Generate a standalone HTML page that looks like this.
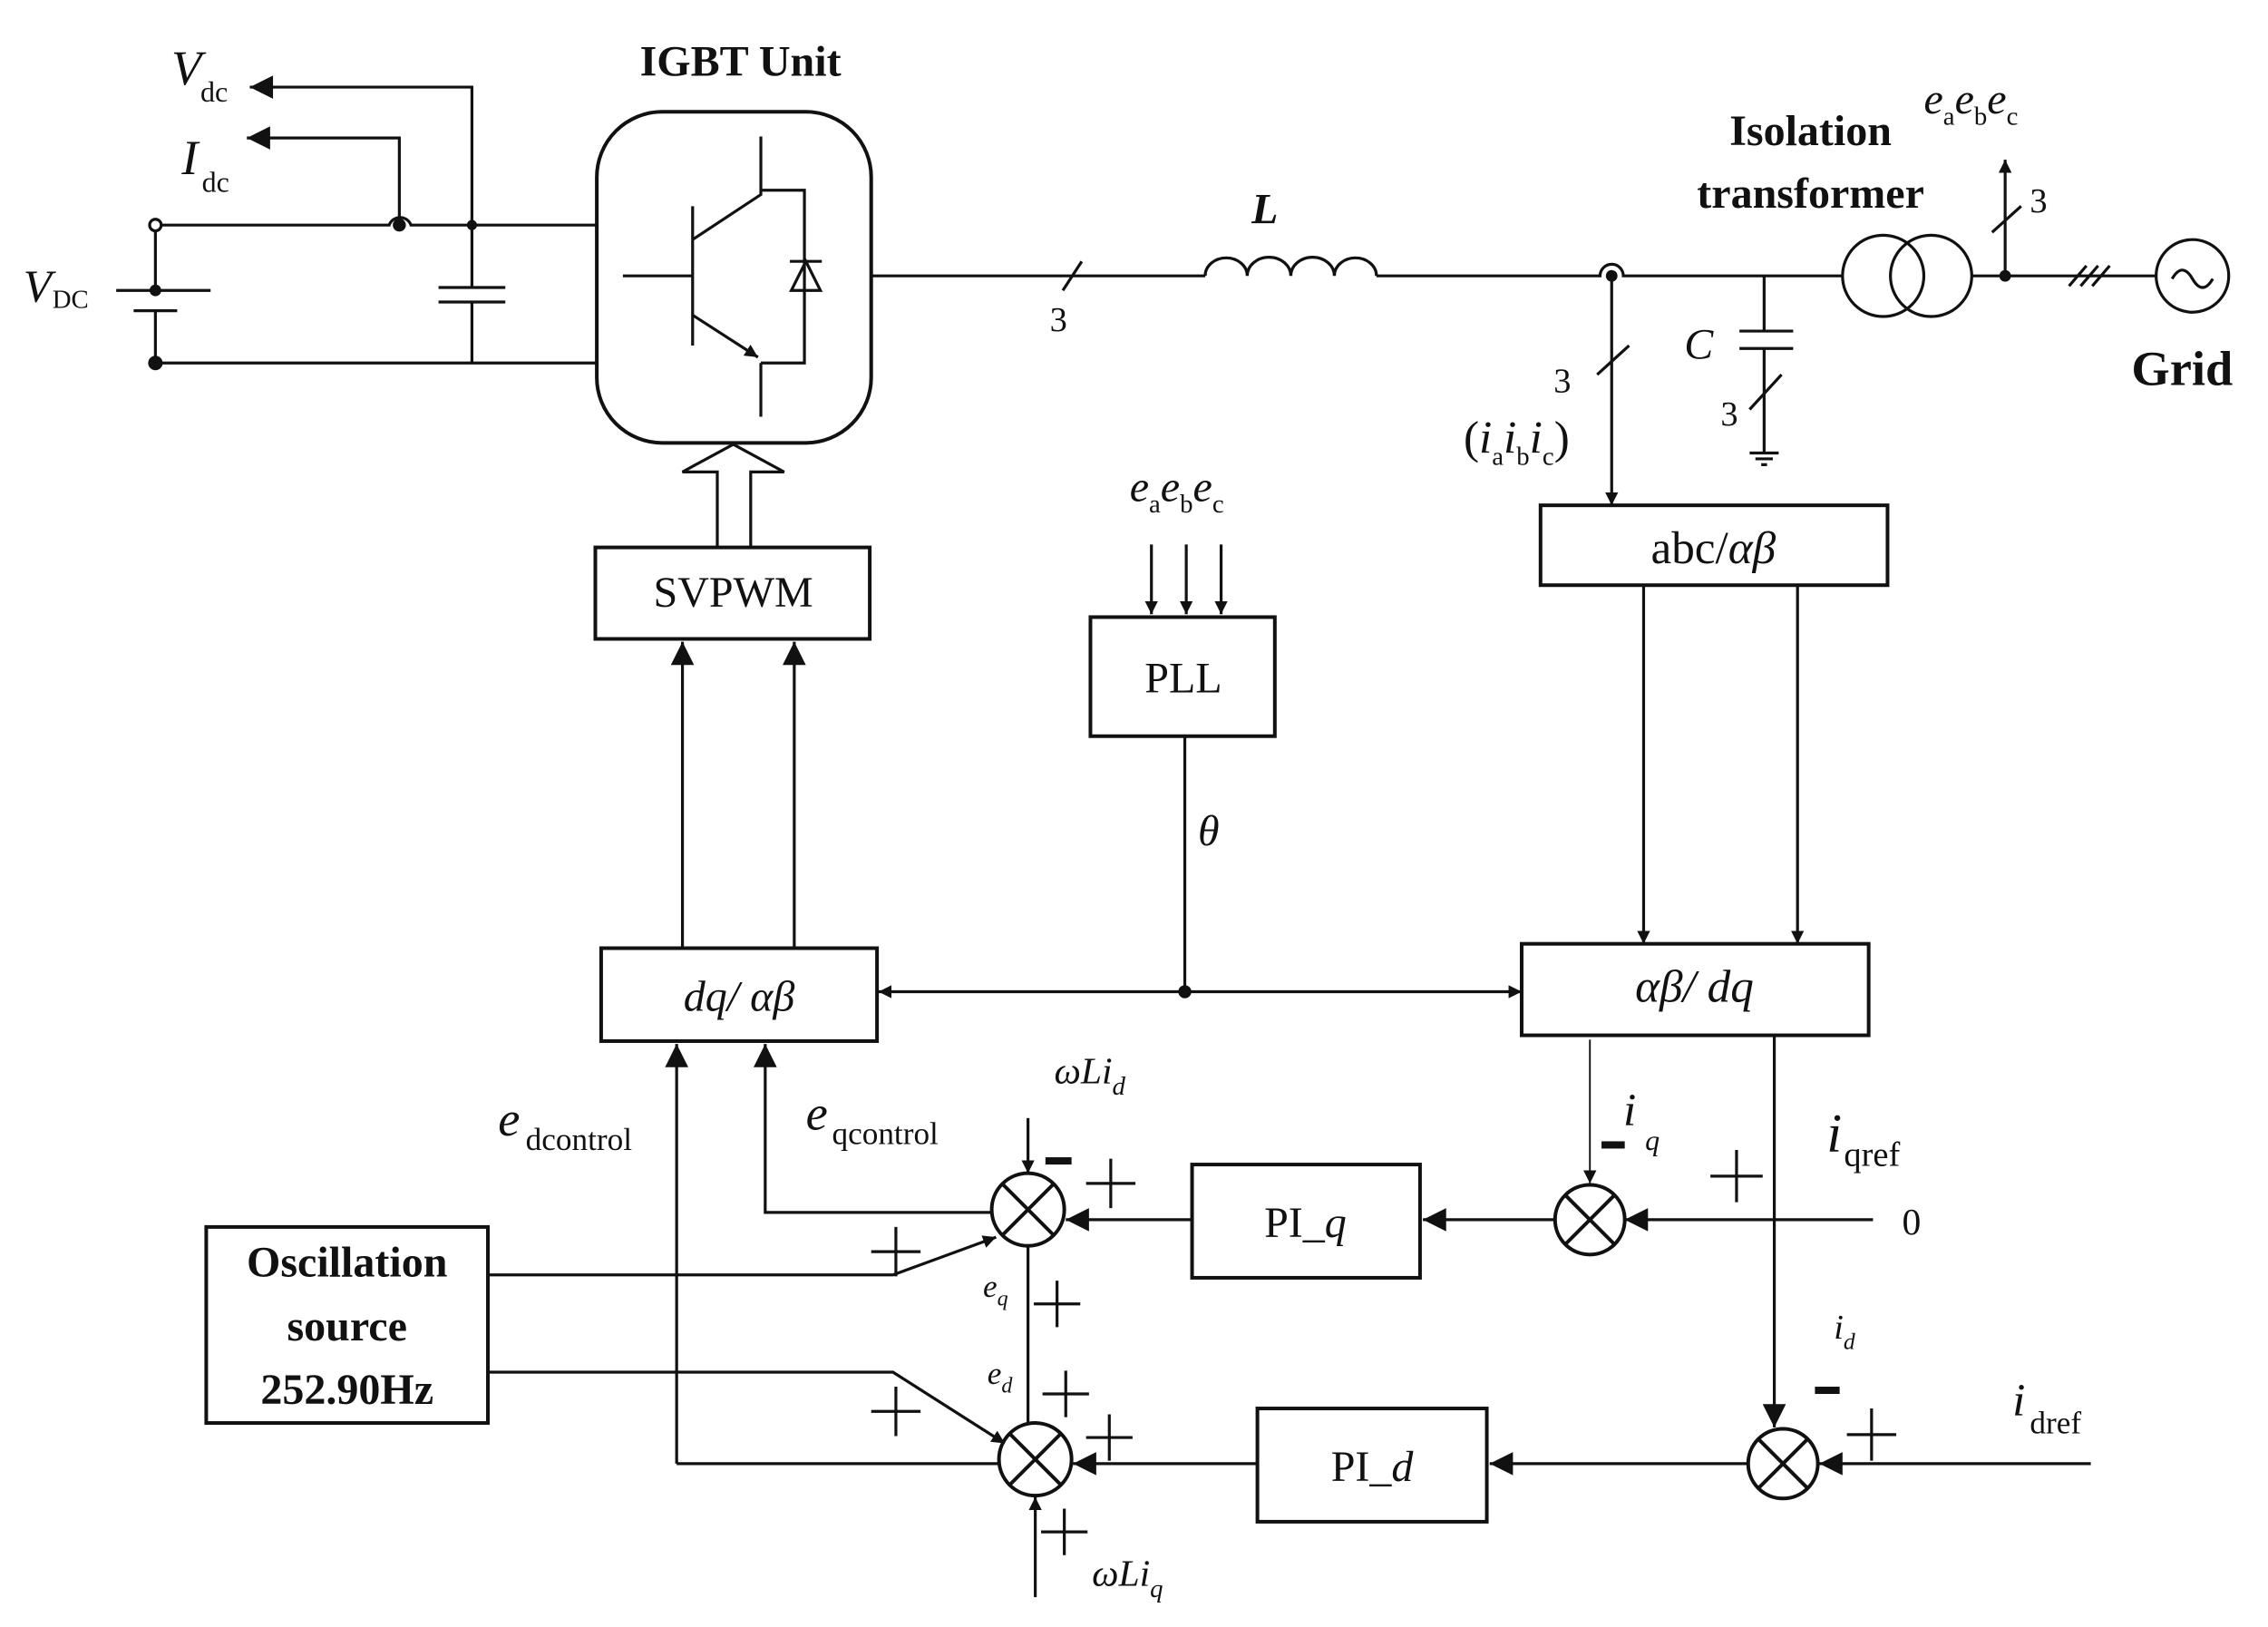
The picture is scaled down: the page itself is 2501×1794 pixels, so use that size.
<!DOCTYPE html>
<html><head><meta charset="utf-8"><style>
html,body{margin:0;padding:0;background:#fff}
svg{display:block}
text{font-family:"Liberation Serif",serif;fill:#111}
.i{font-style:italic}
.b{font-weight:bold}
</style></head><body>
<svg width="2501" height="1794" viewBox="0 0 1562 1120.5" xmlns="http://www.w3.org/2000/svg">
<defs>
<marker id="a" viewBox="0 0 10 10" refX="10" refY="5" markerWidth="9" markerHeight="9" markerUnits="userSpaceOnUse" orient="auto"><path d="M0,0 L10,5 L0,10 z" fill="#111"/></marker>
<marker id="A" viewBox="0 0 10 10" refX="10" refY="5" markerWidth="22" markerHeight="16" markerUnits="userSpaceOnUse" orient="auto"><path d="M0,0 L10,5 L0,10 z" fill="#111"/></marker>
<marker id="As" viewBox="0 0 10 10" refX="0" refY="5" markerWidth="22" markerHeight="16" markerUnits="userSpaceOnUse" orient="auto"><path d="M10,0 L0,5 L10,10 z" fill="#111"/></marker>
</defs>
<g stroke="#111" stroke-width="2" fill="none">
<!-- DC side -->
<circle cx="107" cy="155" r="4"/>
<path d="M111,155 H268 A8,8 0 0 1 283,155 H411"/>
<path d="M107,159 V200 M80,200 H145 M92,214 H122 M107,214 V250 H411"/>
<path d="M325,155 V198 M302,198 H348 M302,208 H348 M325,208 V250"/>
<path d="M325,155 V60 H172" marker-end="url(#A)"/>
<path d="M275,152 V95 H170" marker-end="url(#A)"/>
<!-- IGBT -->
<rect x="411" y="77" width="189" height="228" rx="45" stroke-width="2.5"/>
<path d="M429,190 H476 M477,142 V238 M477,165 L524,134 V94 M524,131 H554 V250 H524 M524,250 V287"/>
<path d="M477,217 L522,246" marker-end="url(#a)"/>
<path d="M544,180 H566 M555,180 L545,200 H565 Z"/>
<!-- AC line -->
<path d="M600,190 H830 M745,180 L732,200"/>
<path d="M830,190 a14,12 0 0 1 29,0 a14,12 0 0 1 30,0 a14,12 0 0 1 30,0 a14,12 0 0 1 29,0"/>
<path d="M948,190 H1102 A8,8 0 0 1 1118,190 H1269"/>
<circle cx="1297" cy="190" r="28"/><circle cx="1330" cy="190" r="28"/>
<path d="M1358,190 H1485"/>
<path d="M1425,197 L1437,183 M1433,197 L1445,183 M1441,197 L1453,183"/>
<circle cx="1510" cy="190" r="25"/>
<path d="M1496,192 q7,-12 14,0 q7,12 14,0"/>
<path d="M1381,190 V110" marker-end="url(#a)"/>
<path d="M1372,160 L1392,142"/>
<!-- capacitor C -->
<path d="M1215,190 V228 M1198,228 H1235 M1198,240 H1235 M1215,240 V312 M1205,312 H1225 M1209,316 H1221 M1213,320 H1217 M1205,282 L1227,258"/>
<!-- current meas -->
<path d="M1110,190 V348" marker-end="url(#a)"/>
<path d="M1100,258 L1122,238"/>
<!-- boxes -->
<rect x="1061" y="348" width="239" height="55" stroke-width="2.5"/>
<rect x="1048" y="650" width="239" height="63" stroke-width="2.5"/>
<rect x="751" y="425" width="127" height="82" stroke-width="2.5"/>
<rect x="414" y="653" width="190" height="64" stroke-width="2.5"/>
<rect x="410" y="377" width="189" height="63" stroke-width="2.5"/>
<rect x="821" y="802" width="157" height="78" stroke-width="2.5"/>
<rect x="866" y="970" width="158" height="78" stroke-width="2.5"/>
<rect x="142" y="845" width="194" height="135" stroke-width="2.5"/>
<!-- hollow arrow -->
<path d="M494,377 V325 H470 L505,306 L540,325 H517 V377"/>
<!-- abc -> alphabeta/dq -->
<path d="M1132,403 V650" marker-end="url(#a)"/>
<path d="M1238,403 V650" marker-end="url(#a)"/>
<!-- PLL inputs -->
<path d="M793,375 V423" marker-end="url(#a)"/>
<path d="M817,375 V423" marker-end="url(#a)"/>
<path d="M841,375 V423" marker-end="url(#a)"/>
<path d="M816,507 V683"/>
<path d="M816,683 H605" marker-end="url(#a)"/>
<path d="M816,683 H1048" marker-end="url(#a)"/>
<!-- dq/ab to SVPWM -->
<path d="M470,653 V442" marker-end="url(#A)"/>
<path d="M547,653 V442" marker-end="url(#A)"/>
<path d="M466,1008 V719" marker-end="url(#A)"/>
<path d="M683,835 H527 V719" marker-end="url(#A)"/>
<!-- summers -->
<circle cx="708" cy="833" r="25" stroke-width="2.5"/>
<path d="M690,815 L726,851 M726,815 L690,851" stroke-width="2.5"/>
<circle cx="713" cy="1005" r="25" stroke-width="2.5"/>
<path d="M695,987 L731,1023 M731,987 L695,1023" stroke-width="2.5"/>
<circle cx="1095" cy="840" r="24" stroke-width="2.5"/>
<path d="M1078,823 L1112,857 M1112,823 L1078,857" stroke-width="2.5"/>
<circle cx="1228" cy="1008" r="24" stroke-width="2.5"/>
<path d="M1211,991 L1245,1025 M1245,991 L1211,1025" stroke-width="2.5"/>
<!-- q loop -->
<path d="M1290,840 H1119" marker-end="url(#A)"/>
<path d="M1071,840 H980" marker-end="url(#A)"/>
<path d="M1095,716 V815" stroke-width="1.2" marker-end="url(#a)"/>
<path d="M1222,713 V983" marker-end="url(#A)"/>
<path d="M1440,1008 H1253" marker-end="url(#A)"/>
<path d="M1204,1008 H1026" marker-end="url(#A)"/>
<path d="M821,840 H734" marker-end="url(#A)"/>
<path d="M866,1008 H739" marker-end="url(#A)"/>
<path d="M688,1008 H466"/>
<path d="M708,770 V808" marker-end="url(#a)"/>
<path d="M708,858 V980"/>
<path d="M713,1100 V1031" marker-end="url(#a)"/>
<path d="M336,878 H615 L686,852" marker-end="url(#a)"/>
<path d="M336,945 H615 L692,994" marker-end="url(#a)"/>
<!-- plus/minus signs -->
<path d="M748,815 H782 M765,798 V832"/>
<path d="M1178,810 H1214 M1196,792 V828"/>
<path d="M1272,988 H1306 M1289,970 V1006"/>
<path d="M600,862 H634 M617,845 V879"/>
<path d="M600,972 H634 M617,955 V989"/>
<path d="M712,898 H744 M728,882 V914"/>
<path d="M718,960 H750 M734,944 V976"/>
<path d="M748,990 H780 M764,974 V1006"/>
<path d="M717,1055 H749 M733,1039 V1071"/>
</g>
<g fill="#111">
<circle cx="325" cy="155" r="3.5"/><circle cx="275" cy="155" r="4.5"/>
<circle cx="107" cy="200" r="4"/><circle cx="107" cy="250" r="5"/>
<circle cx="816" cy="683" r="4.5"/><circle cx="1381" cy="190" r="4"/><circle cx="1110" cy="190" r="4"/>
<rect x="720" y="797" width="18" height="5"/>
<rect x="1103" y="786" width="16" height="5"/>
<rect x="1250" y="955" width="17" height="5"/>
</g>
<!-- text -->
<text x="510" y="52" font-size="30" class="b" text-anchor="middle">IGBT Unit</text>
<text x="118" y="58" font-size="34" class="i">V</text><text x="138" y="70" font-size="20">dc</text>
<text x="125" y="120" font-size="34" class="i">I</text><text x="139" y="132" font-size="20">dc</text>
<text x="16" y="208" font-size="32" class="i">V</text><text x="36" y="212" font-size="18">DC</text>
<text x="723" y="228" font-size="24">3</text>
<text x="862" y="154" font-size="30" class="i b">L</text>
<text x="1247" y="100" font-size="30" class="b" text-anchor="middle">Isolation</text>
<text x="1247" y="143" font-size="30" class="b" text-anchor="middle">transformer</text>
<text x="1325" y="78" font-size="30" class="i">e<tspan font-size="18" font-style="normal" dy="8">a</tspan><tspan dy="-8">e</tspan><tspan font-size="18" font-style="normal" dy="8">b</tspan><tspan dy="-8">e</tspan><tspan font-size="18" font-style="normal" dy="8">c</tspan></text>
<text x="1398" y="146" font-size="24">3</text>
<text x="1468" y="265" font-size="34" class="b">Grid</text>
<text x="1160" y="247" font-size="30" class="i">C</text>
<text x="1185" y="293" font-size="24">3</text>
<text x="1070" y="270" font-size="24">3</text>
<text x="1008" y="312" font-size="32">(<tspan class="i">i</tspan><tspan font-size="18" dy="8">a</tspan><tspan class="i" dy="-8">i</tspan><tspan font-size="18" dy="8">b</tspan><tspan class="i" dy="-8">i</tspan><tspan font-size="18" dy="8">c</tspan><tspan dy="-8">)</tspan></text>
<text x="1180" y="388" font-size="32" text-anchor="middle">abc/<tspan class="i">αβ</tspan></text>
<text x="1167" y="690" font-size="32" text-anchor="middle" class="i">αβ/ dq</text>
<text x="815" y="477" font-size="30" text-anchor="middle">PLL</text>
<text x="778" y="345" font-size="30" class="i">e<tspan font-size="18" font-style="normal" dy="8">a</tspan><tspan dy="-8">e</tspan><tspan font-size="18" font-style="normal" dy="8">b</tspan><tspan dy="-8">e</tspan><tspan font-size="18" font-style="normal" dy="8">c</tspan></text>
<text x="825" y="582" font-size="30" class="i">θ</text>
<text x="509" y="696" font-size="30" text-anchor="middle" class="i">dq/ αβ</text>
<text x="505" y="418" font-size="30" text-anchor="middle">SVPWM</text>
<text x="343" y="782" font-size="34" class="i">e</text><text x="362" y="792" font-size="22">dcontrol</text>
<text x="555" y="778" font-size="34" class="i">e</text><text x="573" y="788" font-size="22">qcontrol</text>
<text x="726" y="746" font-size="26" class="i">ωLi<tspan font-size="18" dy="8">d</tspan></text>
<text x="752" y="1092" font-size="26" class="i">ωLi<tspan font-size="18" dy="8">q</tspan></text>
<text x="899" y="852" font-size="30" text-anchor="middle">PI_<tspan class="i">q</tspan></text>
<text x="945" y="1020" font-size="30" text-anchor="middle">PI_<tspan class="i">d</tspan></text>
<text x="239" y="879" font-size="30" class="b" text-anchor="middle">Oscillation</text>
<text x="239" y="923" font-size="30" class="b" text-anchor="middle">source</text>
<text x="239" y="967" font-size="30" class="b" text-anchor="middle">252.90Hz</text>
<text x="1118" y="775" font-size="32" class="i">i</text><text x="1133" y="792" font-size="20" class="i">q</text>
<text x="1258" y="793" font-size="38" class="i">i</text><text x="1270" y="803" font-size="24">qref</text>
<text x="1310" y="850" font-size="26">0</text>
<text x="1263" y="922" font-size="24" class="i">i<tspan font-size="16" dy="7">d</tspan></text>
<text x="1386" y="975" font-size="32" class="i">i</text><text x="1398" y="987" font-size="22">dref</text>
<text x="677" y="893" font-size="22" class="i">e<tspan font-size="15" dy="6">q</tspan></text>
<text x="680" y="953" font-size="22" class="i">e<tspan font-size="15" dy="6">d</tspan></text>
</svg>
</body></html>
